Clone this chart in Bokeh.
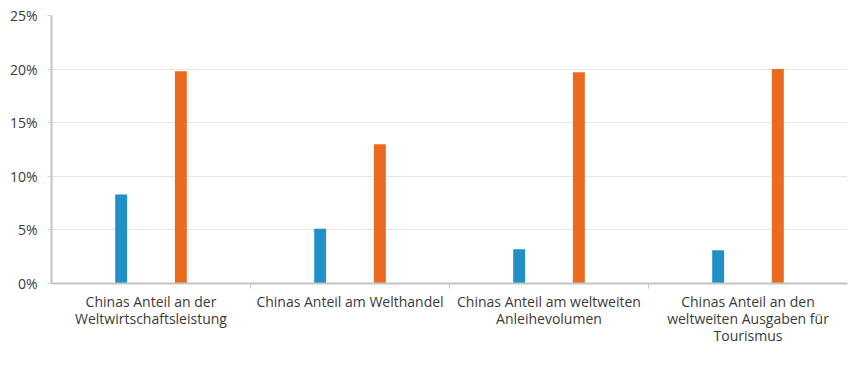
from bokeh.plotting import figure
from bokeh.models import (Range1d, FixedTicker, ColumnDataSource, Legend, LegendItem,
                          CustomJSTickFormatter, LinearAxis)
from bokeh.transform import dodge
from bokeh.embed import file_html
from bokeh.resources import INLINE

categories = [
    "Chinas Anteil an der\nWeltwirtschaftsleistung",
    "Chinas Anteil am Welthandel",
    "Chinas Anteil am weltweiten\nAnleihevolumen",
    "Chinas Anteil an den\nweltweiten Ausgaben für\nTourismus",
]
sars = [8.3, 5.1, 3.2, 3.1]
corona = [19.8, 13.0, 19.7, 20.0]
series_names = ["SARS (2002-2003)", "Coronavirus (2019-2020)"]
y_ticks = [0, 5, 10, 15, 20, 25]

BLUE = "#2190c8"
ORANGE = "#eb6a1e"
FONT = "Open Sans"
TXT = "#3a3a3a"

pos = [i + 0.5 for i in range(len(categories))]
src = ColumnDataSource(dict(x=pos, sars=sars, corona=corona))

p = figure(frame_width=796, frame_height=268, output_backend="svg", toolbar_location=None,
           x_range=Range1d(0, len(categories)), y_range=Range1d(0, 25),
           min_border_left=51, min_border_right=6, min_border_top=15, min_border_bottom=0)
p.outline_line_color = None
p.background_fill_color = "white"

r1 = p.vbar(x=dodge("x", -0.15, range=p.x_range), top="sars", width=0.06, source=src,
            fill_color=BLUE, line_color=None)
r2 = p.vbar(x=dodge("x", 0.15, range=p.x_range), top="corona", width=0.06, source=src,
            fill_color=ORANGE, line_color=None)

# legend markers (kept below the visible y range, only their legend glyphs show)
dummy = ColumnDataSource(dict(x=pos[:1], y=[-100]))
l1 = p.scatter("x", "y", source=dummy, marker="circle", size=15, fill_color=BLUE, line_color=None)
l2 = p.scatter("x", "y", source=dummy, marker="circle", size=15, fill_color=ORANGE, line_color=None)

# category labels, one axis per text line
lines = [c.split("\n") for c in categories]
n_lines = max(len(l) for l in lines)

xa = p.xaxis[0]
xa.ticker = FixedTicker(ticks=pos, minor_ticks=list(range(1, len(categories))))
xa.major_tick_out = 0
xa.major_tick_in = 0
xa.minor_tick_out = 5
xa.minor_tick_in = 0
xa.minor_tick_line_color = "#c8c8c8"
xa.axis_line_color = "#c3c3c3"
xa.axis_line_width = 2
xa.major_label_standoff = 3
axes = [xa]
for k in range(1, n_lines):
    ax = LinearAxis(ticker=FixedTicker(ticks=pos, minor_ticks=[]))
    ax.axis_line_color = None
    ax.major_tick_line_color = None
    ax.minor_tick_line_color = None
    ax.major_tick_out = 0
    ax.major_tick_in = 0
    ax.minor_tick_out = 0
    ax.minor_tick_in = 0
    ax.major_label_standoff = -5
    p.add_layout(ax, "below")
    axes.append(ax)
for k, ax in enumerate(axes):
    ax.major_label_overrides = {p_: (l[k] if k < len(l) else " ") for p_, l in zip(pos, lines)}
    ax.major_label_text_font = FONT
    ax.major_label_text_font_size = "14px"
    ax.major_label_text_color = TXT

# y axis
ya = p.yaxis[0]
ya.ticker = FixedTicker(ticks=y_ticks, minor_ticks=[])
ya.formatter = CustomJSTickFormatter(code="return tick + '%';")
ya.axis_line_color = "#c3c3c3"
ya.axis_line_width = 2
ya.major_tick_out = 4
ya.major_tick_in = 0
ya.major_tick_line_color = "#d0d0d0"
ya.major_label_standoff = 10
ya.major_label_text_font = FONT
ya.major_label_text_font_size = "14px"
ya.major_label_text_color = TXT

p.xgrid.grid_line_color = None
p.ygrid.grid_line_color = "#e6e6e6"
p.ygrid.ticker = FixedTicker(ticks=y_ticks)

legend = Legend(items=[LegendItem(label=series_names[0], renderers=[l1]),
                       LegendItem(label=series_names[1], renderers=[l2])],
                orientation="horizontal", location="top_center",
                label_text_font=FONT, label_text_font_size="14px", label_text_color=TXT,
                glyph_width=16, glyph_height=16, label_height=16, label_standoff=12, spacing=17,
                border_line_color=None, background_fill_alpha=0, margin=16, padding=0)
p.add_layout(legend, "below")

open("out.html", "w").write(file_html(p, INLINE))
